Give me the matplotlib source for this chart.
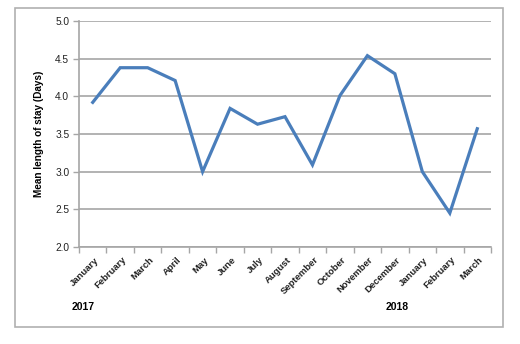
import matplotlib
matplotlib.use("Agg")
import matplotlib.pyplot as plt
from matplotlib.patches import Rectangle

months = ["January", "February", "March", "April", "May", "June", "July", "August",
          "September", "October", "November", "December", "January", "February", "March"]
values = [3.92, 4.38, 4.38, 4.21, 3.00, 3.84, 3.63, 3.73, 3.09, 4.01, 4.54, 4.30, 3.00, 2.45, 3.57]
years = ["2017", "2018"]
yticks = [2.0, 2.5, 3.0, 3.5, 4.0, 4.5, 5.0]

W, H = 520, 344
fig = plt.figure(figsize=(W / 100, H / 100), dpi=100)
fig.patch.set_facecolor("white")

# outer border
fig.patches.append(Rectangle((15 / W, 1 - 327 / H), (503 - 15) / W, (327 - 8) / H,
                             transform=fig.transFigure, fill=False,
                             edgecolor="#b0b0b0", linewidth=1.2))

ax = fig.add_axes([79 / W, 1 - 247 / H, (491 - 79) / W, (247 - 21) / H])
n = len(months)
x = list(range(n))
ax.plot(x, values, color="#4a7ebb", linewidth=2.3, solid_joinstyle="miter")
ax.set_xlim(-0.5, n - 0.5)
ax.set_ylim(2.0, 5.0)

ax.set_yticks(yticks)
ax.set_yticklabels([f"{v:.1f}" for v in yticks], fontsize=7.3, family="Liberation Sans", color="#222222")
ax.yaxis.grid(True, color="#a6a6a6", linewidth=1.2)
ax.set_axisbelow(True)

ax.set_xticks([i - 0.5 for i in range(n + 1)])
ax.set_xticklabels([])
ax.tick_params(axis="x", length=4, color="#a6a6a6", width=1)
ax.tick_params(axis="y", length=4, color="#a6a6a6", width=1, pad=3)
for i, m in enumerate(months):
    ax.annotate(m, xy=(i, 0), xycoords=("data", "axes fraction"),
                xytext=(1, -6), textcoords="offset points",
                rotation=45, ha="right", va="top", rotation_mode="anchor",
                fontsize=6.8, fontweight="bold", family="Liberation Sans", color="#222222")

for s in ["top", "right"]:
    ax.spines[s].set_visible(False)
for s in ["left", "bottom"]:
    ax.spines[s].set_color("#a6a6a6")
    ax.spines[s].set_linewidth(1.2)

ax.set_ylabel("Mean length of stay (Days)", fontsize=7.2, fontweight="bold",
              family="Liberation Sans")
ax.yaxis.set_label_coords(-0.085, 0.5)

fig.text(83 / W, 1 - 307 / H, years[0], fontsize=7.5, fontweight="bold",
         family="Liberation Sans", ha="center", va="center")
fig.text(397 / W, 1 - 307 / H, years[1], fontsize=7.5, fontweight="bold",
         family="Liberation Sans", ha="center", va="center")

fig.savefig("out.png", dpi=100)
